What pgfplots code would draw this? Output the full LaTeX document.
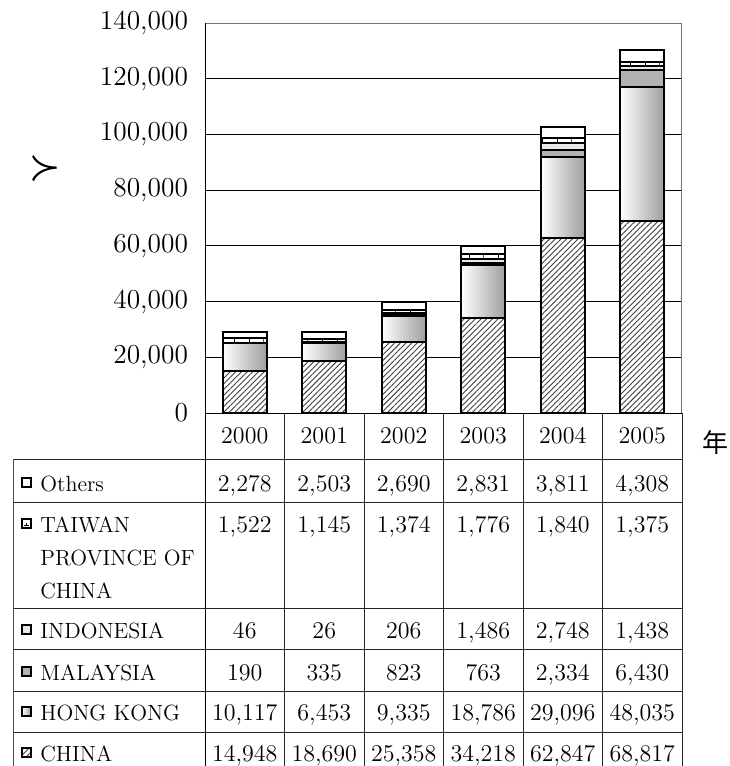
\documentclass[border=0pt]{standalone}
\usepackage{fontspec}
\newfontfamily\cjk{Noto Sans CJK JP}
\usepackage{pgfplots}
\usepackage{pgfplotstable}
\pgfplotsset{compat=1.18}
\usetikzlibrary{patterns,patterns.meta}

% brick-like fill used for the Taiwan segments
\pgfdeclarepatternformonly{hbricks}{\pgfqpoint{-0.2pt}{-0.2pt}}{\pgfqpoint{7.5pt}{2.2pt}}{\pgfqpoint{7.33pt}{2pt}}{%
  \pgfsetlinewidth{0.45pt}%
  \pgfpathmoveto{\pgfqpoint{0pt}{0pt}}\pgfpathlineto{\pgfqpoint{7.33pt}{0pt}}%
  \pgfpathmoveto{\pgfqpoint{0pt}{0pt}}\pgfpathlineto{\pgfqpoint{0pt}{2pt}}%
  \pgfusepath{stroke}}

\pgfplotstableread{
year china hk malaysia indonesia taiwan others
2000 14948 10117 190 46 1522 2278
2001 18690 6453 335 26 1145 2503
2002 25358 9335 823 206 1374 2690
2003 34218 18786 763 1486 1776 2831
2004 62847 29096 2334 2748 1840 3811
2005 68817 48035 6430 1438 1375 4308
}\datatable

\tikzset{
  sChina/.style={preaction={fill=white}, pattern={Lines[angle=45,distance=2pt,line width=0.45pt]}, pattern color=black!75},
  sHK/.style={left color=white, right color=black!38},
  sMalaysia/.style={fill=black!30},
  sIndonesia/.style={fill=black!9},
  sTaiwan/.style={preaction={fill=white}, pattern=hbricks, pattern color=black},
  sOthers/.style={fill=white},
}

\newcommand\numfont{\fontsize{12}{14}\selectfont}
\newcommand\hdrfont{\fontsize{11}{13}\selectfont}

\begin{document}
\begin{tikzpicture}
\path[use as bounding box] (0,0) rectangle (364.5pt,-383pt);

\begin{axis}[
  at={(102.5pt,-206.5pt)}, anchor=south west,
  scale only axis, width=238.5pt, height=195pt,
  ybar stacked, bar width=22pt,
  xmin=-0.5, xmax=5.5, ymin=0, ymax=140000,
  xtick=\empty,
  ytick={0,20000,40000,60000,80000,100000,120000,140000},
  ymajorgrids, grid style={black, line width=0.5pt},
  axis line style={black!55, line width=0.5pt},
  tick align=inside, ytick pos=left, major tick length=4pt,
  tick style={black, line width=0.5pt},
  scaled y ticks=false,
  yticklabel style={font=\fontsize{13.7}{16}\selectfont,
    /pgf/number format/fixed, /pgf/number format/assume math mode=true,
    /pgf/number format/1000 sep={,}, xshift=-5pt},
  every axis plot/.append style={draw=black, line width=1pt},
]
\addplot[sChina, draw=black] table[x expr=\coordindex, y=china]{\datatable};
% each Hong Kong bar carries its own left-to-right shading
\addplot[fill=white, draw=black,
  scatter, mark=*, mark size=0pt,
  visualization depends on={rawy \as \hkv},
  scatter/@pre marker code/.code={%
    \shade[sHK, draw=black, line width=1pt]
      (-11pt,0pt) -- (11pt,0pt) -- ++(axis direction cs:0,-\hkv) -- ++(-22pt,0pt) -- cycle;},
  scatter/@post marker code/.code={},
] table[x expr=\coordindex, y=hk]{\datatable};
\addplot[sMalaysia, draw=black] table[x expr=\coordindex, y=malaysia]{\datatable};
\addplot[sIndonesia, draw=black] table[x expr=\coordindex, y=indonesia]{\datatable};
\addplot[sTaiwan, draw=black] table[x expr=\coordindex, y=taiwan]{\datatable};
\addplot[sOthers, draw=black] table[x expr=\coordindex, y=others]{\datatable};
\end{axis}

\begin{scope}[x=0.5pt, y=-0.5pt]
  % axis left line and data table grid
  \draw[black, line width=0.5pt] (205,23) -- (205,766);
  \draw[black, line width=0.5pt] (205,413) -- (682,413);
  \foreach \k in {1,...,6} \draw[black!85, line width=0.5pt] ({205+79.5*\k},413) -- ({205+79.5*\k},766);
  \foreach \yy in {459,502,608,649,691,732} \draw[black!85, line width=0.5pt] (13,\yy) -- (682,\yy);
  \draw[black!70, line width=0.5pt] (13,459) -- (13,766);

  % year row
  \foreach \r in {0,...,5} {
    \pgfplotstablegetelem{\r}{year}\of\datatable
    \node[anchor=base, inner sep=0pt, font=\numfont] at ({244.75+79.5*\r},443) {\pgfplotsretval};
  }
  % values
  \foreach \c/\yy in {others/491, taiwan/532, indonesia/638, malaysia/680, hk/720, china/761} {
    \foreach \r in {0,...,5} {
      \pgfplotstablegetelem{\r}{\c}\of\datatable
      \node[anchor=base, inner sep=0pt, font=\numfont] at ({244.75+79.5*\r},\yy)
        {\pgfmathprintnumber[fixed, assume math mode=true, 1000 sep={,}]{\pgfplotsretval}};
    }
  }
  % row headers with key boxes
  \foreach \st/\yy/\txt in {sOthers/491/Others, sIndonesia/638/INDONESIA, sMalaysia/680/MALAYSIA, sHK/720/HONG KONG, sChina/761/CHINA} {
    \draw[\st, draw=black, line width=0.6pt] (22,{\yy-13}) rectangle (31,{\yy-4});
    \node[anchor=base west, inner sep=0pt, font=\hdrfont] at (40,\yy) {\txt};
  }
  \draw[fill=white, draw=black, line width=0.6pt] (22,519) rectangle (31,528);
  \draw[black, line width=0.4pt] (24,525.5) -- (29,525.5) (26.5,523) -- (26.5,525.5);
  \node[anchor=base west, inner sep=0pt, font=\hdrfont] at (40,532) {TAIWAN};
  \node[anchor=base west, inner sep=0pt, font=\hdrfont] at (40,565.5) {PROVINCE OF};
  \node[anchor=base west, inner sep=0pt, font=\hdrfont] at (40,598) {CHINA};

  % unit labels
  \node[rotate=-90, inner sep=0pt, font=\cjk\fontsize{14}{16}\selectfont] at (45,168) {人};
  \node[inner sep=0pt, font=\cjk\fontsize{13}{15}\selectfont] at (715,443) {年};
\end{scope}
\end{tikzpicture}
\end{document}
